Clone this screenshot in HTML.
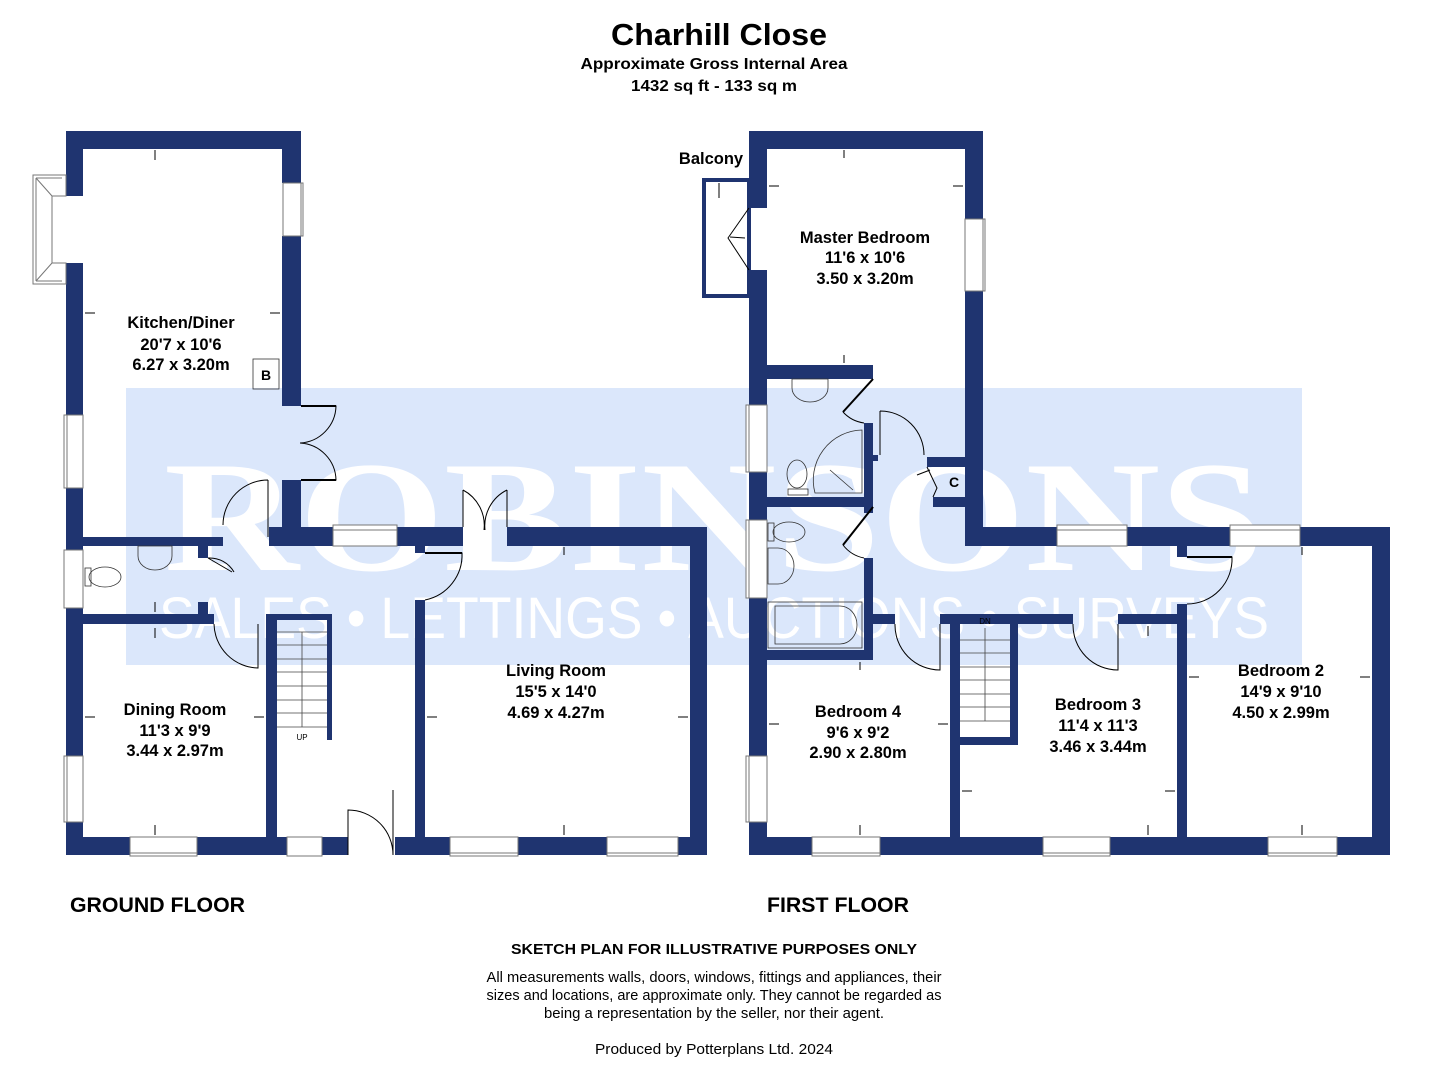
<!DOCTYPE html>
<html><head><meta charset="utf-8"><style>
html,body{margin:0;padding:0;background:#fff}
svg{display:block}
text{font-family:"Liberation Sans",Arial,sans-serif}
</style></head><body>
<svg width="1429" height="1080" viewBox="0 0 1429 1080" xmlns="http://www.w3.org/2000/svg">
<rect width="1429" height="1080" fill="#fff"/>
<!-- watermark -->
<rect x="126" y="388" width="1176" height="277" fill="#dbe7fb"/>
<text x="714" y="570" text-anchor="middle" font-weight="bold" font-size="158" fill="#fff" textLength="1100" lengthAdjust="spacingAndGlyphs" style="font-family:'Liberation Serif',serif">ROBINSONS</text>
<text x="714" y="638" text-anchor="middle" font-size="58" fill="#fff" textLength="1110" lengthAdjust="spacingAndGlyphs">SALES • LETTINGS • AUCTIONS • SURVEYS</text>

<!-- titles -->
<text x="719" y="45" text-anchor="middle" font-weight="bold" font-size="31" textLength="216" lengthAdjust="spacingAndGlyphs">Charhill Close</text>
<text x="714" y="69" text-anchor="middle" font-weight="bold" font-size="16" textLength="267" lengthAdjust="spacingAndGlyphs">Approximate Gross Internal Area</text>
<text x="714" y="91" text-anchor="middle" font-weight="bold" font-size="16" textLength="166" lengthAdjust="spacingAndGlyphs">1432 sq ft - 133 sq m</text>

<g fill="#1f3470">
<!-- GROUND FLOOR -->
<rect x="66" y="131" width="235" height="18"/>
<rect x="66" y="131" width="17" height="65"/>
<rect x="66" y="263" width="17" height="152"/>
<rect x="66" y="488" width="17" height="268"/>
<rect x="66" y="822" width="17" height="33"/>
<rect x="282" y="131" width="19" height="52"/>
<rect x="282" y="236" width="19" height="170"/>
<rect x="282" y="480" width="19" height="66"/>
<rect x="83" y="537" width="140" height="9"/>
<rect x="198" y="546" width="10" height="12"/>
<rect x="198" y="602" width="10" height="13"/>
<rect x="83" y="614" width="131" height="10"/>
<rect x="269" y="527" width="64" height="19"/>
<rect x="397" y="527" width="66" height="19"/>
<rect x="415" y="546" width="10" height="7"/>
<rect x="507" y="527" width="200" height="19"/>
<rect x="690" y="527" width="17" height="328"/>
<rect x="415" y="600" width="10" height="237"/>
<rect x="266" y="614" width="66" height="6"/>
<rect x="266" y="614" width="11" height="223"/>
<rect x="327" y="614" width="5" height="126"/>
<rect x="66" y="837" width="64" height="18"/>
<rect x="197" y="837" width="90" height="18"/>
<rect x="322" y="837" width="26" height="18"/>
<rect x="395" y="837" width="55" height="18"/>
<rect x="518" y="837" width="89" height="18"/>
<rect x="678" y="837" width="29" height="18"/>

<!-- FIRST FLOOR -->
<rect x="749" y="131" width="234" height="18"/>
<rect x="749" y="131" width="18" height="77"/>
<rect x="749" y="270" width="18" height="135"/>
<rect x="749" y="472" width="18" height="48"/>
<rect x="749" y="598" width="18" height="158"/>
<rect x="749" y="822" width="18" height="33"/>
<rect x="965" y="131" width="18" height="88"/>
<rect x="965" y="291" width="18" height="255"/>
<rect x="965" y="527" width="92" height="19"/>
<rect x="1127" y="527" width="103" height="19"/>
<rect x="1300" y="527" width="90" height="19"/>
<rect x="1372" y="527" width="18" height="328"/>
<rect x="1177" y="546" width="10" height="11"/>
<rect x="1177" y="604" width="10" height="233"/>
<rect x="1118" y="614" width="69" height="10"/>
<rect x="940" y="614" width="133" height="10"/>
<rect x="950" y="614" width="10" height="223"/>
<rect x="1010" y="614" width="8" height="131"/>
<rect x="950" y="737" width="68" height="8"/>
<rect x="767" y="365" width="106" height="14"/>
<rect x="864" y="423" width="9" height="90"/>
<rect x="873" y="455" width="5" height="6"/>
<rect x="767" y="497" width="106" height="10"/>
<rect x="864" y="558" width="9" height="102"/>
<rect x="873" y="614" width="22" height="10"/>
<rect x="767" y="650" width="106" height="10"/>
<rect x="927" y="457" width="38" height="10"/>
<rect x="933" y="497" width="32" height="10"/>
<rect x="749" y="837" width="63" height="18"/>
<rect x="880" y="837" width="163" height="18"/>
<rect x="1110" y="837" width="158" height="18"/>
<rect x="1337" y="837" width="53" height="18"/>
</g>
<!-- balcony -->
<rect x="704" y="180" width="45" height="116" fill="none" stroke="#1f3470" stroke-width="4"/>

<!-- windows -->
<g fill="#fff" stroke="#777" stroke-width="1">
<rect x="283" y="183" width="20" height="53"/><line x1="301" y1="183" x2="301" y2="236"/>
<rect x="64" y="415" width="19" height="73"/><line x1="67" y1="415" x2="67" y2="488"/>
<rect x="64" y="756" width="19" height="66"/><line x1="67" y1="756" x2="67" y2="822"/>
<rect x="64" y="550" width="19" height="58"/>
<rect x="130" y="837" width="67" height="19"/><line x1="130" y1="853" x2="197" y2="853"/>
<rect x="287" y="837" width="35" height="19"/>
<rect x="450" y="837" width="68" height="19"/><line x1="450" y1="853" x2="518" y2="853"/>
<rect x="607" y="837" width="71" height="19"/><line x1="607" y1="853" x2="678" y2="853"/>
<rect x="333" y="525" width="64" height="21"/><line x1="333" y1="530" x2="397" y2="530"/>
<rect x="965" y="219" width="20" height="72"/><line x1="983" y1="219" x2="983" y2="291"/>
<rect x="746" y="405" width="21" height="67"/><line x1="749" y1="405" x2="749" y2="472"/>
<rect x="746" y="520" width="21" height="78"/><line x1="749" y1="520" x2="749" y2="598"/>
<rect x="746" y="756" width="21" height="66"/><line x1="749" y1="756" x2="749" y2="822"/>
<rect x="812" y="837" width="68" height="19"/><line x1="812" y1="853" x2="880" y2="853"/>
<rect x="1043" y="837" width="67" height="19"/><line x1="1043" y1="853" x2="1110" y2="853"/>
<rect x="1268" y="837" width="69" height="19"/><line x1="1268" y1="853" x2="1337" y2="853"/>
<rect x="1057" y="525" width="70" height="21"/><line x1="1057" y1="530" x2="1127" y2="530"/>
<rect x="1230" y="525" width="70" height="21"/><line x1="1230" y1="530" x2="1300" y2="530"/>
<!-- bay -->
<path d="M33 175 H66 V196 H52 V263 H66 V284 H33 Z"/>
<path d="M36 178 H62 M36 281 H62 M36 178 V281 M36 178 L52 196 M36 281 L52 263" fill="none"/>
</g>

<!-- doors -->
<g fill="none" stroke="#000" stroke-width="1">
<path d="M301 406 H336 A38 38 0 0 1 300 443 M301 480 H336 A38 38 0 0 0 300 443"/>
<path d="M268 480 V537 M268 480 A45 45 0 0 0 223 525"/>
<path d="M208 558 L232 572 M208 558 A28 28 0 0 1 234 572"/>
<path d="M214 624 A45 45 0 0 0 258 668 V624"/>
<path d="M425 553 H462 A46 46 0 0 1 425 600"/>
<path d="M463 490 V527 M463 490 A40 40 0 0 1 484 530 M507 490 V527 M507 490 A40 40 0 0 0 485 530"/>
<path d="M348 855 V810 A45 45 0 0 1 393 855 M393 855 V790"/>
<path d="M749 208 L728 238 L749 270 M730 237 L745 238"/>
<path d="M873 379 L843 412 M843 412 A35 35 0 0 0 864 423"/>
<path d="M873 507 L843 545 M843 545 A35 35 0 0 0 864 558"/>
<path d="M880 411 V455 M880 411 A44 44 0 0 1 924 455"/>
<path d="M927 467 L937 488 L933 497 M917 475 L930 470"/>
<path d="M895 624 A45 45 0 0 0 940 670 V624"/>
<path d="M1073 624 A45 45 0 0 0 1118 670 V624"/>
<path d="M1187 557 H1232 A45 45 0 0 1 1187 604"/>
</g>
<g stroke="#000" stroke-width="2">
<line x1="301" y1="406" x2="336" y2="406"/><line x1="301" y1="480" x2="336" y2="480"/>
<line x1="425" y1="553" x2="462" y2="553"/><line x1="1187" y1="557" x2="1232" y2="557"/>
<line x1="873" y1="379" x2="843" y2="412"/><line x1="873" y1="507" x2="843" y2="545"/>
</g>

<!-- stairs -->
<g stroke="#444" stroke-width="0.8">
<line x1="277" y1="632" x2="327" y2="632"/><line x1="277" y1="645" x2="327" y2="645"/><line x1="277" y1="659" x2="327" y2="659"/><line x1="277" y1="672" x2="327" y2="672"/><line x1="277" y1="686" x2="327" y2="686"/><line x1="277" y1="700" x2="327" y2="700"/><line x1="277" y1="713" x2="327" y2="713"/><line x1="277" y1="727" x2="327" y2="727"/><line x1="302" y1="632" x2="302" y2="727"/>
<line x1="960" y1="640" x2="1010" y2="640"/><line x1="960" y1="653" x2="1010" y2="653"/><line x1="960" y1="667" x2="1010" y2="667"/><line x1="960" y1="680" x2="1010" y2="680"/><line x1="960" y1="694" x2="1010" y2="694"/><line x1="960" y1="707" x2="1010" y2="707"/><line x1="960" y1="721" x2="1010" y2="721"/><line x1="985" y1="628" x2="985" y2="721"/>
</g>
<text x="302" y="740" text-anchor="middle" font-size="8">UP</text>
<text x="985" y="624" text-anchor="middle" font-size="8">DN</text>

<!-- fixtures -->
<g fill="none" stroke="#333" stroke-width="0.8">
<path d="M138 546 H172 V556 A17 14 0 0 1 138 556 Z"/>
<ellipse cx="105" cy="577" rx="16" ry="10"/><rect x="85" y="568" width="6" height="18"/>
<path d="M792 379 H828 V388 A18 14 0 0 1 792 388 Z"/>
<ellipse cx="797" cy="474" rx="10" ry="14"/><rect x="788" y="489" width="20" height="6"/>
<path d="M862 430 V493 H815 A50 50 0 0 1 862 430 Z"/>
<line x1="830" y1="470" x2="853" y2="490"/>
<ellipse cx="789" cy="532" rx="16" ry="10"/><rect x="768" y="523" width="6" height="18"/>
<path d="M768 548 H778 A16 18 0 0 1 778 584 H768 Z"/>
<rect x="768" y="602" width="94" height="46"/>
<path d="M775 606 H840 A17 19 0 0 1 840 644 H775 Z"/>
<rect x="253" y="359" width="26" height="30"/>
</g>
<text x="266" y="380" text-anchor="middle" font-weight="bold" font-size="14">B</text>
<text x="954" y="487" text-anchor="middle" font-weight="bold" font-size="14">C</text>

<!-- arrows -->
<g stroke="#000" stroke-width="1" fill="#000">
<path d="M155 150 V160"/><path d="M155 612 V602"/><path d="M155 628 V638"/><path d="M155 835 V825"/>
<path d="M85 313 H95"/><path d="M280 313 H270"/><path d="M85 717 H95"/><path d="M264 717 H254"/>
<path d="M427 717 H437"/><path d="M688 717 H678"/><path d="M564 547 V555"/><path d="M564 835 V825"/>
<path d="M844 150 V158"/><path d="M844 363 V355"/><path d="M769 186 H779"/><path d="M963 186 H953"/>
<path d="M860 662 V670"/><path d="M860 835 V825"/><path d="M769 724 H779"/><path d="M948 724 H938"/>
<path d="M1148 626 V636"/><path d="M1148 835 V825"/><path d="M962 791 H972"/><path d="M1175 791 H1165"/>
<path d="M1302 547 V555"/><path d="M1302 835 V825"/><path d="M1189 677 H1199"/><path d="M1370 677 H1360"/>
<path d="M719 183 V198"/>
</g>

<!-- labels -->
<g font-weight="bold" font-size="16.5" text-anchor="middle">
<text x="181" y="328">Kitchen/Diner</text><text x="181" y="350">20'7 x 10'6</text><text x="181" y="370">6.27 x 3.20m</text>
<text x="175" y="715">Dining Room</text><text x="175" y="736">11'3 x 9'9</text><text x="175" y="756">3.44 x 2.97m</text>
<text x="556" y="676">Living Room</text><text x="556" y="697">15'5 x 14'0</text><text x="556" y="718">4.69 x 4.27m</text>
<text x="865" y="243">Master Bedroom</text><text x="865" y="263">11'6 x 10'6</text><text x="865" y="284">3.50 x 3.20m</text>
<text x="858" y="717">Bedroom 4</text><text x="858" y="738">9'6 x 9'2</text><text x="858" y="758">2.90 x 2.80m</text>
<text x="1098" y="710">Bedroom 3</text><text x="1098" y="731">11'4 x 11'3</text><text x="1098" y="752">3.46 x 3.44m</text>
<text x="1281" y="676">Bedroom 2</text><text x="1281" y="697">14'9 x 9'10</text><text x="1281" y="718">4.50 x 2.99m</text>
<text x="711" y="164">Balcony</text>
</g>
<text x="70" y="912" font-weight="bold" font-size="21" textLength="175" lengthAdjust="spacingAndGlyphs">GROUND FLOOR</text>
<text x="767" y="912" font-weight="bold" font-size="21" textLength="142" lengthAdjust="spacingAndGlyphs">FIRST FLOOR</text>
<text x="714" y="954" text-anchor="middle" font-weight="bold" font-size="14.5" textLength="406" lengthAdjust="spacingAndGlyphs">SKETCH PLAN FOR ILLUSTRATIVE PURPOSES ONLY</text>
<g font-size="14.5" text-anchor="middle">
<text x="714" y="982" textLength="455" lengthAdjust="spacingAndGlyphs">All measurements walls, doors, windows, fittings and appliances, their</text>
<text x="714" y="1000" textLength="455" lengthAdjust="spacingAndGlyphs">sizes and locations, are approximate only. They cannot be regarded as</text>
<text x="714" y="1018" textLength="340" lengthAdjust="spacingAndGlyphs">being a representation by the seller, nor their agent.</text>
<text x="714" y="1054" textLength="238" lengthAdjust="spacingAndGlyphs">Produced by Potterplans Ltd. 2024</text>
</g>
</svg>
</body></html>
